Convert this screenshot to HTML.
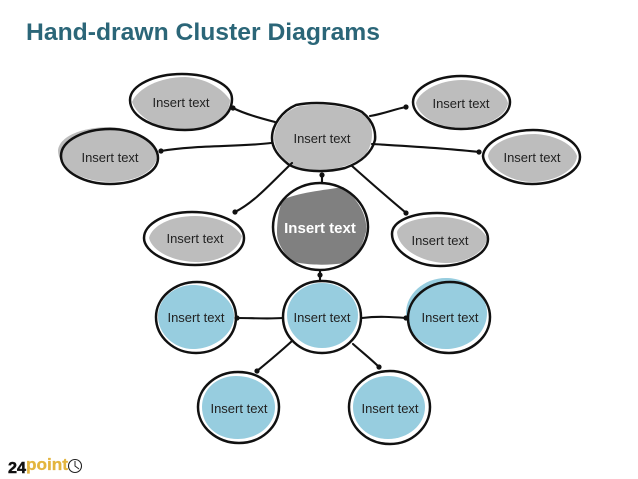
<!DOCTYPE html>
<html><head><meta charset="utf-8"><style>
html,body{margin:0;padding:0;background:#fff;width:638px;height:479px;overflow:hidden}
svg{display:block}
text{font-family:"Liberation Sans",sans-serif}
.t{font-size:13px;fill:#222;text-anchor:middle}
.o{fill:none;stroke:#111;stroke-width:2.5;stroke-linejoin:round}
.c{fill:none;stroke:#111;stroke-width:2.1;stroke-linecap:round}
.g{fill:#bdbdbd}.b{fill:#97cddf}
</style></head><body>
<svg width="638" height="479" viewBox="0 0 638 479" xmlns="http://www.w3.org/2000/svg">
<text x="26" y="40" font-size="24" font-weight="bold" fill="#2b6678" textLength="354" lengthAdjust="spacingAndGlyphs">Hand-drawn Cluster Diagrams</text>

<!-- fills -->
<path class="g" d="M132 102C138 88 160 77 185 77C205 78 222 88 230 100C230 116 214 131 190 131C160 131 138 118 132 102Z"/>
<path class="g" d="M58 150C60 135 85 127 110 127C135 128 156 142 157 157C155 172 135 182 110 182C85 182 58 170 58 150Z"/>
<path class="g" d="M274 138C274 124 285 110 300 106C320 103 348 105 366 116C374 126 374 142 366 154C352 168 325 172 305 170C288 166 274 152 274 138Z"/>
<path class="g" d="M416 103C419 91 440 80 462 80C485 80 505 91 508 103C507 116 485 128 460 128C438 128 418 116 416 103Z"/>
<path class="g" d="M488 156C490 144 510 134 535 134C555 135 573 144 577 156C576 170 555 182 532 182C510 182 490 168 488 156Z"/>
<path class="g" d="M149 238C152 226 170 216 195 216C215 216 235 224 242 236C238 252 218 263 195 262C170 261 152 250 149 238Z"/>
<path class="g" d="M397 232C400 222 420 217 440 217C462 217 482 226 487 238C486 252 465 264 445 263C420 262 398 248 397 232Z"/>
<path fill="#808080" d="M277 233C277 218 280 205 283 200C295 193 325 190 343 187C358 200 368 215 366 232C362 250 352 262 345 263C325 266 300 265 290 260C282 250 277 242 277 233Z"/>
<path class="b" d="M287 315C287 298 302 283 322 283C342 283 358 298 358 315C358 333 342 348 322 348C302 348 287 333 287 315Z"/>
<path class="b" d="M158 316C158 299 174 285 193 285C213 285 234 299 234 316C234 334 214 349 193 349C174 349 158 334 158 316Z"/>
<path class="b" d="M406 313C406 294 424 278 446 278C468 278 487 294 487 313C487 333 468 349 446 349C424 349 406 333 406 313Z"/>
<path class="b" d="M202 407C202 390 216 376 236 376C258 376 275 390 275 407C275 425 258 439 238 439C216 439 202 425 202 407Z"/>
<path class="b" d="M353 407C353 390 368 376 388 376C408 376 425 390 425 407C425 425 408 439 388 439C368 439 353 425 353 407Z"/>

<!-- outlines -->
<path class="o" d="M130 100C130 85 155 74 182 74C210 74 232 85 232 99C232 117 212 130 185 130C155 130 130 117 130 100Z"/>
<path class="o" d="M61 156C61 140 85 129 110 129C135 129 158 142 158 158C158 173 135 184 110 184C85 184 61 172 61 156Z"/>
<path class="o" d="M272 138C272 125 282 111 296 105C315 101 345 103 362 112C372 120 376 130 375 140C372 152 362 162 345 168C325 173 300 172 288 164C278 156 272 148 272 138Z"/>
<path class="o" d="M413 102C413 88 436 76 461 76C488 76 510 88 510 102C510 117 488 129 461 129C436 129 413 117 413 102Z"/>
<path class="o" d="M483 156C484 142 508 130 533 130C558 130 580 142 580 157C580 172 556 184 532 184C508 184 484 170 483 156Z"/>
<path class="o" d="M144 238C144 224 165 212 192 212C218 212 244 222 244 238C244 254 220 265 195 265C168 265 144 252 144 238Z"/>
<path class="o" d="M392 234C392 221 412 213 437 213C464 213 488 224 488 239C488 254 465 266 440 266C414 266 392 250 392 234Z"/>
<path class="o" d="M273 227C273 203 294 183 320 183C346 183 368 203 368 227C368 250 346 270 320 270C294 270 273 250 273 227Z"/>
<path class="o" d="M283 317C283 297 300 281 322 281C344 281 361 297 361 317C361 337 344 353 322 353C300 353 283 337 283 317Z"/>
<path class="o" d="M156 317C156 298 174 282 197 282C219 282 236 298 236 317C236 337 218 353 196 353C174 353 156 337 156 317Z"/>
<path class="o" d="M408 318C408 298 428 282 450 282C472 282 490 298 490 317C490 337 471 353 449 353C427 353 408 338 408 318Z"/>
<path class="o" d="M198 407C198 388 216 372 238 372C261 372 279 388 279 407C279 427 261 443 239 443C217 443 198 427 198 407Z"/>
<path class="o" d="M349 407C349 388 367 371 390 371C412 371 430 388 430 407C430 427 412 444 390 444C367 444 349 427 349 407Z"/>

<!-- connectors -->
<path class="c" d="M275 122C260 118 245 114 233 108"/>
<path class="c" d="M271 143C240 147 195 145 161 151"/>
<path class="c" d="M370 116C383 114 395 109 406 107"/>
<path class="c" d="M372 144C405 146 445 148 479 152"/>
<path class="c" d="M292 163C272 182 255 202 235 212"/>
<path class="c" d="M352 166C370 182 388 198 405 212"/>
<path class="c" d="M322 183L322 175"/>
<path class="c" d="M320 271L320 281"/>
<path class="c" d="M283 318C268 319 252 318 237 318"/>
<path class="c" d="M362 318C378 316 392 317 406 318"/>
<path class="c" d="M292 341C280 352 268 362 257 371"/>
<path class="c" d="M353 344C362 352 372 360 379 367"/>
<g fill="#111">
<circle cx="233" cy="108" r="2.6"/><circle cx="161" cy="151" r="2.6"/><circle cx="406" cy="107" r="2.6"/><circle cx="479" cy="152" r="2.6"/><circle cx="235" cy="212" r="2.6"/><circle cx="406" cy="213" r="2.6"/><circle cx="322" cy="175" r="2.6"/><circle cx="320" cy="275" r="2.6"/><circle cx="237" cy="318" r="2.6"/><circle cx="406" cy="318" r="2.6"/><circle cx="257" cy="371" r="2.6"/><circle cx="379" cy="367" r="2.6"/>
</g>

<!-- labels -->
<text class="t" x="181" y="107">Insert text</text>
<text class="t" x="110" y="162">Insert text</text>
<text class="t" x="322" y="143">Insert text</text>
<text class="t" x="461" y="108">Insert text</text>
<text class="t" x="532" y="162">Insert text</text>
<text class="t" x="195" y="243">Insert text</text>
<text class="t" x="440" y="245">Insert text</text>
<text x="320" y="233" font-size="15" font-weight="bold" fill="#fff" text-anchor="middle">Insert text</text>
<text class="t" x="322" y="322">Insert text</text>
<text class="t" x="196" y="322">Insert text</text>
<text class="t" x="450" y="322">Insert text</text>
<text class="t" x="239" y="413">Insert text</text>
<text class="t" x="390" y="413">Insert text</text>

<!-- logo -->
<text x="8" y="473" font-size="16" font-weight="bold" fill="#111" stroke="#111" stroke-width=".5" textLength="18" lengthAdjust="spacingAndGlyphs">24</text>
<text x="26" y="470" font-size="17" font-weight="bold" fill="#e3b53f" stroke="#e3b53f" stroke-width=".3" textLength="42" lengthAdjust="spacingAndGlyphs">point</text>
<circle cx="75" cy="466" r="6.5" fill="#fff" stroke="#222" stroke-width="1.1"/>
<path d="M75 461V466L79 469" fill="none" stroke="#222" stroke-width="1"/>
</svg>
</body></html>
